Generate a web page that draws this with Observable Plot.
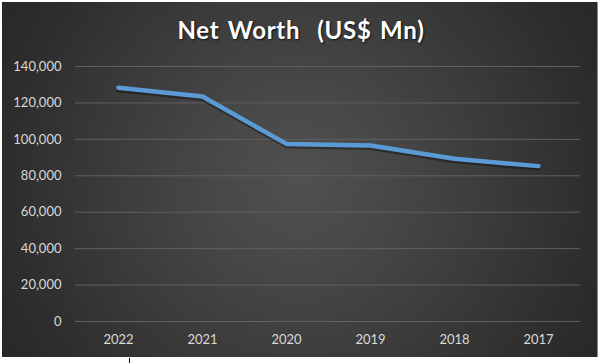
<!DOCTYPE html>
<html>
<head>
<meta charset="utf-8">
<script src="https://cdn.jsdelivr.net/npm/d3@7"></script>
<script src="https://cdn.jsdelivr.net/npm/@observablehq/plot@0.6"></script>
<style>
  html, body { margin: 0; padding: 0; background: #ffffff; }
  #wrap { position: relative; width: 602px; height: 363px; overflow: hidden; }
  #panel {
    position: absolute; left: 2px; top: 2px; width: 595px; height: 355px;
    background: radial-gradient(circle at 50% 50%, #505050 0%, #484848 25%, #3b3b3b 55%, #2d2d2d 85%, #282828 100%);
    border-right: 1px solid #8a8a8a;
  }
  #title {
    position: absolute; left: 0; top: 15px; width: 602px; text-align: center;
    font-family: Lato, "Open Sans", sans-serif; font-weight: 700; font-size: 24px;
    color: #ffffff; letter-spacing: 0.7px; word-spacing: 2px;
    text-shadow: 1px 1px 2px rgba(0,0,0,0.8);
    white-space: pre;
  }
  #chart { position: absolute; left: 0; top: 50px; }
  #mark { position: absolute; left: 129px; top: 358px; width: 1px; height: 5px; background: #000; }
</style>
</head>
<body>
<div id="wrap">
  <div id="panel"></div>
  <div id="title">Net Worth  (US$ Mn)</div>
  <div id="chart"></div>
  <div id="mark"></div>
</div>
<script>
const years = ["2022", "2021", "2020", "2019", "2018", "2017"];
const netWorth = [128300, 123500, 97500, 96600, 89300, 85300];
const yTicks = [0, 20000, 40000, 60000, 80000, 100000, 120000, 140000];

const data = years.map((y, i) => ({year: y, value: netWorth[i]}));

const chart = Plot.plot({
  width: 600,
  height: 306,
  marginLeft: 75,
  marginRight: 20,
  marginTop: 16,
  marginBottom: 35,
  style: {
    background: "transparent",
    color: "#d9d9d9",
    fontFamily: "Lato, 'Open Sans', sans-serif",
    fontSize: "13px"
  },
  x: {type: "point", domain: years, padding: 0.5, label: null, tickSize: 0, tickPadding: 13},
  y: {domain: [0, 140000], ticks: yTicks, label: null, tickSize: 0, tickPadding: 14,
      tickFormat: d => d3.format(",")(d)},
  marks: [
    Plot.ruleY(yTicks, {stroke: "#606060", strokeWidth: 1}),
    Plot.line(data, {x: "year", y: "value", stroke: "#000", strokeOpacity: 0.35, strokeWidth: 5, dy: 2, strokeLinejoin: "round", strokeLinecap: "round"}),
    Plot.line(data, {x: "year", y: "value", stroke: "#5b9bd5", strokeWidth: 4.5, strokeLinejoin: "round", strokeLinecap: "round"})
  ]
});
document.getElementById("chart").appendChild(chart);
</script>
</body>
</html>
